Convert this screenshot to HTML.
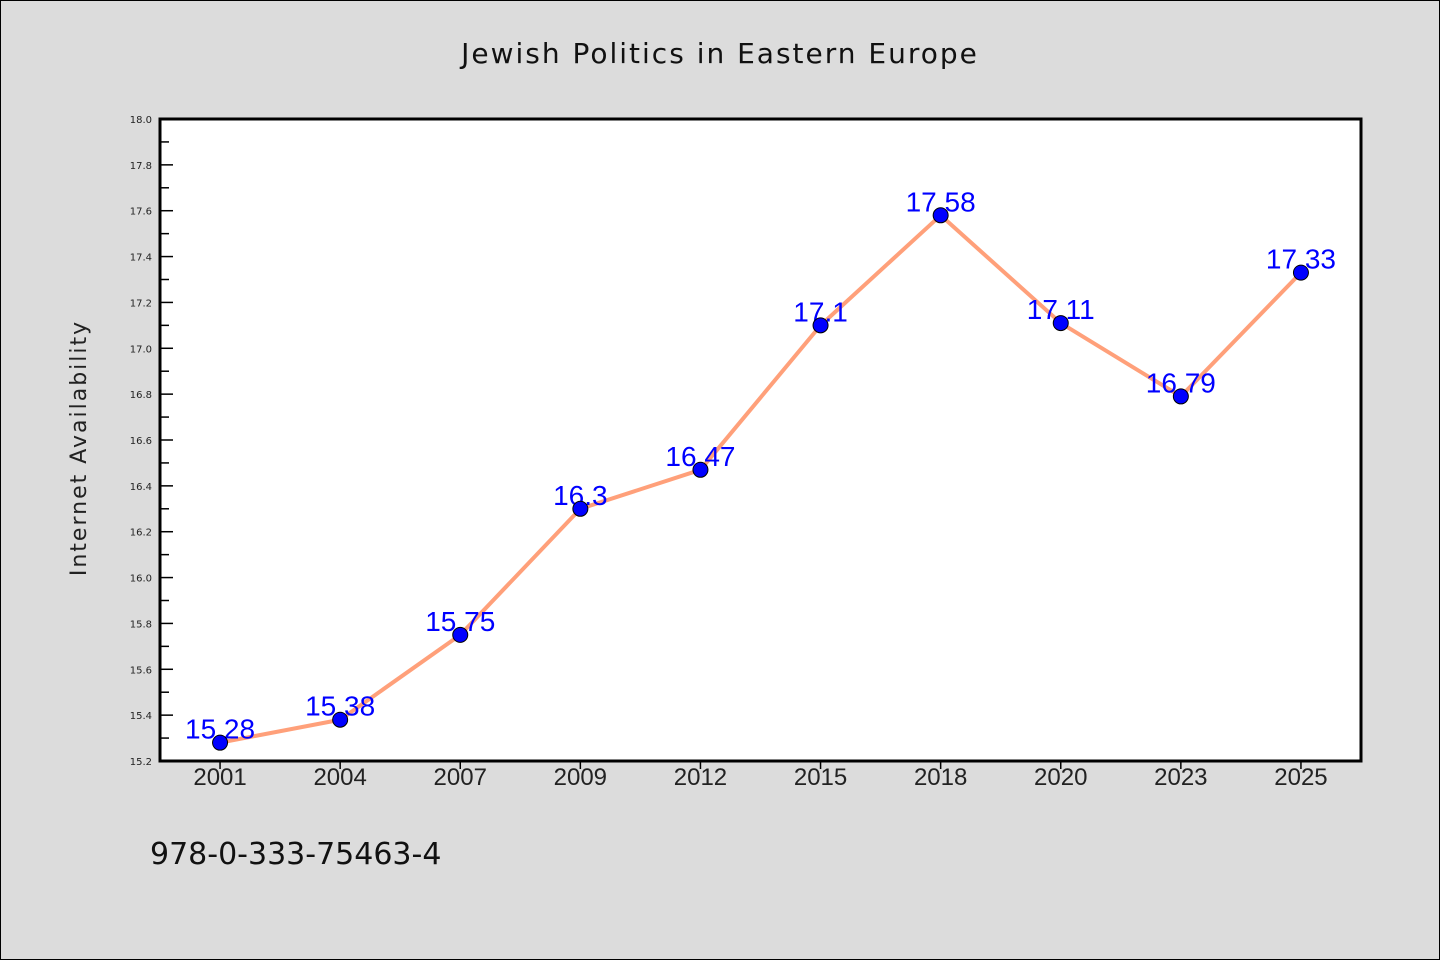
<!DOCTYPE html>
<html><head><meta charset="utf-8"><style>
body{margin:0;background:#dcdcdc;}
svg{display:block;}
</style></head><body>
<svg width="1440" height="960" xmlns="http://www.w3.org/2000/svg">
<rect x="0.5" y="0.5" width="1439" height="959" fill="#dcdcdc" stroke="#000"/>
<text x="720" y="63" text-anchor="middle" font-family="DejaVu Sans, sans-serif" font-size="28" letter-spacing="2" fill="#111">Jewish Politics in Eastern Europe</text>
<rect x="160" y="119" width="1201" height="642" fill="#fff"/>
<g id="axes"></g>
<g id="marks"></g>
<rect x="160" y="119" width="1201" height="642" fill="none" stroke="#000" stroke-width="3"/>
<text x="86" y="448" transform="rotate(-90 86 448)" text-anchor="middle" font-family="DejaVu Sans, sans-serif" font-size="22" letter-spacing="2" fill="#222">Internet Availability</text>
<text x="150" y="864" font-family="DejaVu Sans, sans-serif" font-size="30" fill="#111">978-0-333-75463-4</text>
</svg>
<script>
const categories=["2001","2004","2007","2009","2012","2015","2018","2020","2023","2025"];
const values=[15.28,15.38,15.75,16.3,16.47,17.1,17.58,17.11,16.79,17.33];
const valueLabels=["15.28","15.38","15.75","16.3","16.47","17.1","17.58","17.11","16.79","17.33"];
const yTicks=[15.2,15.4,15.6,15.8,16.0,16.2,16.4,16.6,16.8,17.0,17.2,17.4,17.6,17.8,18.0];
const yMin=15.2,yMax=18.0;
const L=160,R=1361,T=119,B=761;
const NS="http://www.w3.org/2000/svg";
function y(v){return B-(v-yMin)/(yMax-yMin)*(B-T);}
function x(i){const bw=(R-L)/categories.length;return L+bw*(i+0.5);}
function mk(tag,attrs,parent){const e=document.createElementNS(NS,tag);for(const k in attrs)e.setAttribute(k,attrs[k]);parent.appendChild(e);return e;}
const axes=document.getElementById('axes'),marks=document.getElementById('marks');
yTicks.forEach((t,i)=>{
  const l=mk('line',{x1:L,x2:L+13,y1:y(t),y2:y(t),stroke:'#000','stroke-width':1.5},axes);
  
  
  const tx=mk('text',{x:152,y:y(t)+4,'text-anchor':'end','font-family':'DejaVu Sans, sans-serif','font-size':10,fill:'#222'},axes);
  tx.textContent=t.toFixed(1);
  
  
  if(i<yTicks.length-1){
    const m=(t+yTicks[i+1])/2;
    const ml=mk('line',{x1:L,x2:L+9,y1:y(m),y2:y(m),stroke:'#000','stroke-width':1.5},axes);
    
    
  }
});
categories.forEach((c,i)=>{
  const l=mk('line',{x1:x(i),x2:x(i),y1:B,y2:B+8,stroke:'#000','stroke-width':1.5},axes);
  
  
  const tx=mk('text',{x:x(i),y:785,'text-anchor':'middle','font-family':'Liberation Sans, sans-serif','font-size':24,fill:'#222'},axes);
  tx.textContent=c;
  
  
});
const line=mk('polyline',{points:values.map((v,i)=>x(i)+','+y(v)).join(' '),fill:'none',stroke:'#ffa07a','stroke-width':4,'stroke-linejoin':'round'},marks);


values.forEach((v,i)=>{
  const tx=mk('text',{x:x(i),y:y(v)-4,'text-anchor':'middle','font-family':'Liberation Sans, sans-serif','font-size':28,fill:'#0000ff'},marks);
  tx.textContent=valueLabels[i];
  
  
});
values.forEach((v,i)=>{
  const c=mk('circle',{cx:x(i),cy:y(v),r:7.5,fill:'#0000ff',stroke:'#000','stroke-width':1},marks);
  
  
});
</script>
</body></html>
